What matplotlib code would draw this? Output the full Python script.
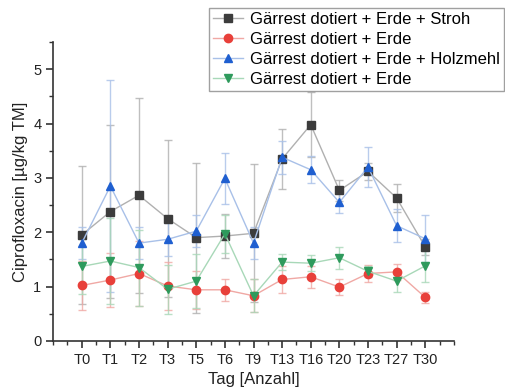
import matplotlib.pyplot as plt
from matplotlib.ticker import MultipleLocator

plt.rcParams['font.family'] = ['Liberation Sans', 'DejaVu Sans']

# Sampling days
days = ['T0', 'T1', 'T2', 'T3', 'T5', 'T6', 'T9', 'T13', 'T16', 'T20', 'T23', 'T27', 'T30']

# Ciprofloxacin concentrations (mean) and standard deviations
stroh = [1.95, 2.38, 2.68, 2.25, 1.90, 1.93, 1.98, 3.35, 3.98, 2.77, 3.12, 2.63, 1.73]
stroh_err = [1.27, 1.60, 1.80, 1.44, 1.38, 0.40, 1.27, 0.55, 0.60, 0.20, 0.15, 0.25, 0.15]

erde = [1.02, 1.12, 1.24, 1.01, 0.94, 0.94, 0.83, 1.13, 1.18, 0.99, 1.24, 1.27, 0.80]
erde_err = [0.45, 0.50, 0.60, 0.45, 0.35, 0.20, 0.30, 0.25, 0.20, 0.15, 0.15, 0.15, 0.10]

holz = [1.80, 2.85, 1.80, 1.87, 2.02, 2.99, 1.80, 3.38, 3.15, 2.55, 3.20, 2.12, 1.88]
holz_err = [0.30, 1.95, 0.30, 0.30, 0.30, 0.47, 0.30, 0.30, 0.25, 0.20, 0.36, 0.30, 0.43]

erde2 = [1.37, 1.47, 1.35, 0.95, 1.10, 1.97, 0.83, 1.45, 1.43, 1.53, 1.28, 1.10, 1.38]
erde2_err = [0.50, 0.80, 0.70, 0.45, 0.50, 0.35, 0.30, 0.15, 0.15, 0.20, 0.10, 0.20, 0.30]

labels = ['Gärrest dotiert + Erde + Stroh', 'Gärrest dotiert + Erde',
          'Gärrest dotiert + Erde + Holzmehl', 'Gärrest dotiert + Erde']

series = [
    (stroh, stroh_err, 's', '#3c3c3c', '#b0b0b0'),
    (erde, erde_err, 'o', '#e8403a', '#f0a8a4'),
    (holz, holz_err, '^', '#1f5fd0', '#a8c0e8'),
    (erde2, erde2_err, 'v', '#2e9a5c', '#a8d8b8'),
]

fig = plt.figure(figsize=(5.06, 3.90), dpi=100)
ax = fig.add_axes([0.105, 0.126, 0.792, 0.766])

x = range(len(days))
for (y, err, m, c, lc), lab in zip(series, labels):
    ax.errorbar(x, y, yerr=err, fmt='none', ecolor=lc, elinewidth=1.0,
                capsize=3, capthick=1.0, alpha=0.8, zorder=1)
    ax.plot(x, y, color=lc, linewidth=1.0, marker=m, markersize=6,
            markerfacecolor=c, markeredgecolor=c, label=lab, zorder=3)

ax.set_xlim(-1, 13)
ax.set_ylim(0, 5.5)
ax.set_xticks(list(x))
ax.set_xticklabels(days)
ax.xaxis.set_minor_locator(MultipleLocator(0.5))
ax.yaxis.set_major_locator(MultipleLocator(1))
ax.yaxis.set_minor_locator(MultipleLocator(0.5))

for s in ['top', 'right']:
    ax.spines[s].set_visible(False)
for s in ['left', 'bottom']:
    ax.spines[s].set_color('#333333')
    ax.spines[s].set_linewidth(1.2)
ax.tick_params(which='major', direction='out', length=5, width=1.2,
               color='#333333', labelsize=10.5, labelcolor='#222222')
ax.tick_params(which='minor', direction='out', length=3, width=1.0, color='#333333')

ax.set_xlabel('Tag [Anzahl]', fontsize=12, color='#222222')
ax.set_ylabel('Ciprofloxacin [µg/kg TM]', fontsize=12, color='#222222')

fig.legend(loc='upper left', bbox_to_anchor=(0.413, 0.98), fontsize=12,
           frameon=True, fancybox=False, edgecolor='#888888',
           handlelength=1.8, borderpad=0.25, labelspacing=0.3, handletextpad=0.4,
           borderaxespad=0.0)

fig.savefig('out.png', dpi=100)
